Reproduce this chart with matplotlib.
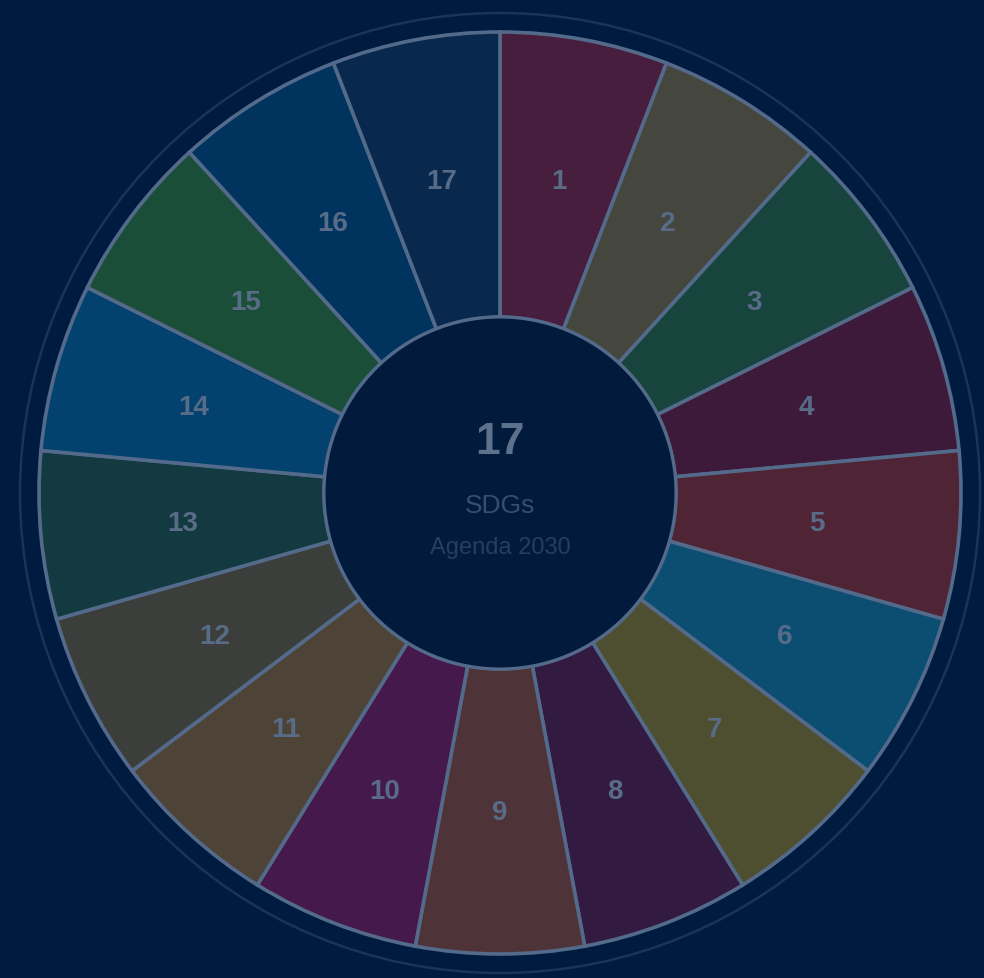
import matplotlib
matplotlib.use("Agg")
import matplotlib.pyplot as plt
from matplotlib.patches import Wedge, Circle
import numpy as np

goals = [str(i) for i in range(1, 18)]
goal_colors = ["#E5243B", "#DDA63A", "#4C9F38", "#C5192D", "#FF3A21", "#26BDE2",
               "#FCC30B", "#A21942", "#FD6925", "#DD1367", "#FD9D24", "#BF8B2E",
               "#3F7E44", "#0A97D9", "#56C02B", "#00689D", "#19486A"]
center_title = "17"
center_sub = "SDGs"
center_note = "Agenda 2030"

bg = np.array([0, 27, 64]) / 255.0
alpha = 0.31

def blend(hexc, a=alpha):
    c = np.array(matplotlib.colors.to_rgb(hexc))
    return tuple(c * a + bg * (1 - a))

line_col = blend("#C8D8F0", 0.42)

W, H = 984, 979
fig = plt.figure(figsize=(W / 100, H / 100), dpi=100)
fig.patch.set_facecolor(tuple(bg))
ax = fig.add_axes([0, 0, 1, 1])
ax.set_xlim(0, W)
ax.set_ylim(0, H)
ax.axis("off")
ax.set_facecolor(tuple(bg))

cx, cy = 500, H - 494
r_out, r_in, r_ring = 461, 176, 480
n = len(goals)
d = 360.0 / n

ax.add_patch(Circle((cx, cy), r_ring, fill=False, edgecolor=blend("#C8D8F0", 0.13), lw=1.8))

for i, (g, col) in enumerate(zip(goals, goal_colors)):
    t2 = 90 - i * d
    t1 = 90 - (i + 1) * d
    ax.add_patch(Wedge((cx, cy), r_out, t1, t2, width=r_out - r_in,
                       facecolor=blend(col), edgecolor=line_col, lw=2.6))
    mid = np.deg2rad((t1 + t2) / 2)
    rm = (r_out + r_in) / 2
    ax.text(cx + rm * np.cos(mid), cy + rm * np.sin(mid) - 1, g, ha="center", va="center",
            fontsize=20, fontweight="bold", color=blend("#DDE6F5", 0.4),
            family="Liberation Sans")

ax.add_patch(Circle((cx, cy), r_in, facecolor="#021a3c", edgecolor=line_col, lw=2.2))

ax.text(cx, H - 443, center_title, ha="center", va="center", fontsize=32,
        fontweight="bold", color=blend("#DDE6F5", 0.42), family="Liberation Sans")
ax.text(cx, H - 506, center_sub, ha="center", va="center", fontsize=19,
        color=blend("#DDE6F5", 0.25), family="Liberation Sans")
ax.text(cx, H - 548, center_note, ha="center", va="center", fontsize=17,
        color=blend("#DDE6F5", 0.17), family="Liberation Sans")

fig.savefig("out.png", dpi=100, facecolor=fig.get_facecolor())
